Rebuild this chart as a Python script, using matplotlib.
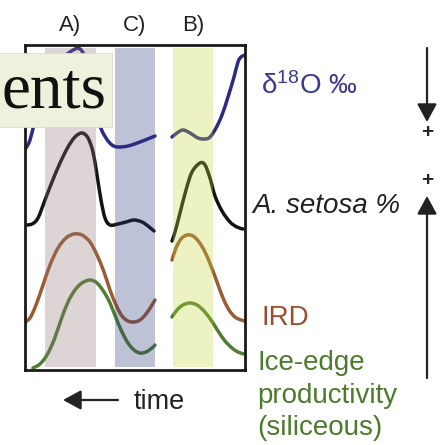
import matplotlib
matplotlib.use("Agg")
import numpy as np
import matplotlib.pyplot as plt
from matplotlib.patches import Rectangle, PathPatch
from matplotlib.path import Path

plt.rcParams['font.family'] = ['Liberation Sans', 'DejaVu Sans']
plt.rcParams['mathtext.fontset'] = 'custom'
plt.rcParams['mathtext.rm'] = 'Liberation Sans'
plt.rcParams['mathtext.default'] = 'regular'

# ---- schematic records (time runs left = older) -------------------------
# each proxy is drawn as two segments separated by a gap in the record
d18o_t1 = [1, 5, 10, 15, 25, 35, 45, 55, 63, 70, 75, 81, 87, 93, 103, 115, 130]
d18o_v1 = [222, 230, 250, 270, 292, 308, 318, 321, 305, 275, 245, 232, 225, 223, 224, 228, 234]
d18o_t2 = [147, 152, 158, 165, 173, 180, 185, 191, 197, 203, 209, 213, 216, 220]
d18o_v2 = [233, 237, 240, 237, 232, 231, 233, 242, 255, 273, 293, 308, 313, 315]

setosa_t1 = [0, 7, 13, 20, 27, 35, 43, 50, 57, 63, 68, 72, 76, 80, 85, 93, 101, 109, 117, 123, 129]
setosa_v1 = [145, 146, 152, 170, 188, 207, 223, 233, 237, 232, 218, 195, 170, 152, 145, 146, 148, 150, 148, 144, 139]
setosa_t2 = [147, 150, 155, 161, 167, 175, 180, 185, 190, 197, 205, 212, 218]
setosa_v2 = [129, 138, 157, 180, 198, 207, 205, 192, 174, 159, 148, 143, 141]

ird_t1 = [0, 5, 11, 18, 25, 33, 41, 49, 57, 65, 72, 79, 85, 91, 97, 103, 109, 115, 121, 127, 130]
ird_v1 = [48, 52, 65, 85, 105, 122, 132, 136, 135, 128, 115, 98, 80, 65, 54, 49, 48, 50, 56, 65, 70]
ird_t2 = [147, 151, 156, 162, 168, 174, 180, 186, 192, 198, 204, 210, 216, 220]
ird_v2 = [110, 122, 131, 135, 134, 128, 118, 104, 88, 72, 60, 53, 50, 49]

ice_t1 = [8, 15, 22, 29, 36, 43, 50, 57, 65, 72, 79, 85, 91, 97, 103, 109, 115, 121, 127, 130]
ice_v1 = [2, 6, 15, 30, 50, 68, 80, 87, 90, 87, 78, 67, 52, 38, 27, 20, 17, 18, 22, 25]
ice_t2 = [147, 152, 158, 165, 172, 179, 186, 193, 200, 207, 213, 219]
ice_v2 = [53, 60, 65, 67, 65, 59, 50, 39, 29, 22, 18, 16]

# event bands: (start, end) on the time axis
band_names = ['A)', 'C)', 'B)']
band_spans = [(20, 71), (90, 130), (148, 188)]
band_colors = ['#917676', '#2a3878', '#c6d73a']

series = [
    ('δ$^{18}$O ‰', '#2b2a86', '#3b3a8f', 'normal',
     [(d18o_t1, d18o_v1), (d18o_t2, d18o_v2)]),
    ('A. setosa %', '#141414', '#222222', 'italic',
     [(setosa_t1, setosa_v1), (setosa_t2, setosa_v2)]),
    ('IRD', '#9b5b35', '#9a5030', 'normal',
     [(ird_t1, ird_v1), (ird_t2, ird_v2)]),
    ('Ice-edge\nproductivity\n(siliceous)', '#4f7d32', '#4e7a2e', 'normal',
     [(ice_t1, ice_v1), (ice_t2, ice_v2)]),
]


def smooth_path(t, v):
    """Catmull-Rom curve through the points, as cubic Bezier segments."""
    pts = np.column_stack([t, v]).astype(float)
    n = len(pts)
    verts = [pts[0]]
    codes = [Path.MOVETO]
    for i in range(n - 1):
        p0 = pts[max(i - 1, 0)]
        p1 = pts[i]
        p2 = pts[i + 1]
        p3 = pts[min(i + 2, n - 1)]
        verts += [p1 + (p2 - p0) / 6, p2 - (p3 - p1) / 6, p2]
        codes += [Path.CURVE4] * 3
    return Path(verts, codes)


W, H = 441, 445
fig = plt.figure(figsize=(W / 100, H / 100), dpi=100)
fig.patch.set_facecolor('white')

# main panel
ax = fig.add_axes([25 / W, (H - 370) / H, 220 / W, 325 / H], zorder=1)
ax.set_xlim(0, 220)
ax.set_ylim(0, 325)
ax.set_xticks([])
ax.set_yticks([])
for sp in ax.spines.values():
    sp.set_linewidth(2.0)
    sp.set_color('#1a1a1a')

for label, lc, tc, style, segs in series:
    for t, v in segs:
        ax.add_patch(PathPatch(smooth_path(t, v), facecolor='none', edgecolor=lc,
                               lw=2.5, capstyle='round', joinstyle='round', zorder=2))

for (a, b), c in zip(band_spans, band_colors):
    ax.axvspan(a, b, ymin=0.008, ymax=0.992, color=c, alpha=0.3, lw=0, zorder=3)

# overlay in pixel coordinates for annotations
ov = fig.add_axes([0, 0, 1, 1], zorder=3)
ov.set_xlim(0, W)
ov.set_ylim(H, 0)
ov.axis('off')
ov.patch.set_alpha(0)

# band labels above the panel
for name, (a, b) in zip(band_names, band_spans):
    xc = 25 + (a + b) / 2
    ov.text(xc, 25, name, ha='center', va='center', fontsize=16, color='#222222')

# series labels on the right
label_pos = [(261, 86), (252, 206), (262, 318), (257, 363)]
for (label, lc, tc, style, segs), (lx, ly) in zip(series, label_pos):
    if '\n' in label:
        ov.text(lx, ly - 13, label, ha='left', va='top', fontsize=20,
                color=tc, fontstyle=style, linespacing=1.33)
    else:
        ov.text(lx, ly, label, ha='left', va='center', fontsize=20,
                color=tc, fontstyle=style)

# direction arrows on the far right
arrow_kw = dict(arrowstyle='-|>,head_length=0.55,head_width=0.3',
                mutation_scale=20, lw=1.6, color='#222222',
                shrinkA=0, shrinkB=0)
ov.annotate('', xy=(427, 122), xytext=(427, 48), arrowprops=arrow_kw)
ov.annotate('', xy=(427, 196), xytext=(427, 378), arrowprops=arrow_kw)
ov.text(427, 133, '+', ha='center', va='center', fontsize=15,
        fontweight='bold', color='#222222')
ov.text(427, 181, '+', ha='center', va='center', fontsize=15,
        fontweight='bold', color='#222222')

# time direction
ov.annotate('', xy=(63, 400), xytext=(118, 400), arrowprops=arrow_kw)
ov.text(134, 402, 'time', ha='left', va='center', fontsize=19.5, color='#222222')

# caption box partly covering the panel
ov.add_patch(Rectangle((-2, 53), 114, 74, facecolor='#eef2dd',
                       edgecolor='#d9ddc8', lw=0.6, zorder=5))
ov.text(2, 107, 'ents', ha='left', va='baseline', fontsize=47,
        family='Liberation Serif', color='#111111', zorder=6)

fig.savefig('out.png', dpi=100, facecolor='white')
